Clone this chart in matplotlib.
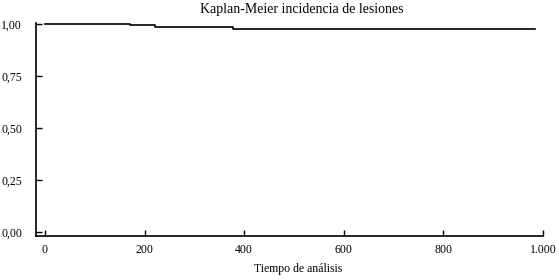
import matplotlib
matplotlib.use("Agg")
import matplotlib.pyplot as plt

# Kaplan-Meier step data (time, survival)
times = [0, 171, 221, 378, 983]
surv = [1.0, 0.9935, 0.988, 0.978, 0.978]

xticks = [0, 200, 400, 600, 800, 1000]
xticklabels = ["0", "200", "400", "600", "800", "1.000"]
yticks = [0.0, 0.25, 0.5, 0.75, 1.0]
yticklabels = ["0,00", "0,25", "0,50", "0,75", "1,00"]

title = "Kaplan-Meier incidencia de lesiones"
xlabel = "Tiempo de análisis"

plt.rcParams['font.family'] = ['Liberation Serif', 'DejaVu Serif']

fig = plt.figure(figsize=(5.59, 2.80), dpi=100)
ax = fig.add_axes([36/559, 44/280, (543-36)/559, (236-23)/280])

ax.step(times, surv, where='post', color='black', lw=1.2)

ax.set_xlim(-18, 1000)
ax.set_ylim(-0.019, 1.005)
ax.set_xticks(xticks)
ax.set_xticklabels(xticklabels)
ax.set_yticks(yticks)
ax.set_yticklabels(yticklabels)
ax.tick_params(direction='in', length=4, width=1, labelsize=8.5, colors='black', pad=6)
ax.tick_params(axis='y', pad=10)

for s in ['top', 'right']:
    ax.spines[s].set_visible(False)
for s in ['left', 'bottom']:
    ax.spines[s].set_linewidth(1.2)

fig.text(302/559, 1 - 9/280, title, ha='center', va='center', fontsize=10)
fig.text(298/559, 1 - 269/280, xlabel, ha='center', va='center', fontsize=8.5)

fig.savefig("out.png", dpi=100)
